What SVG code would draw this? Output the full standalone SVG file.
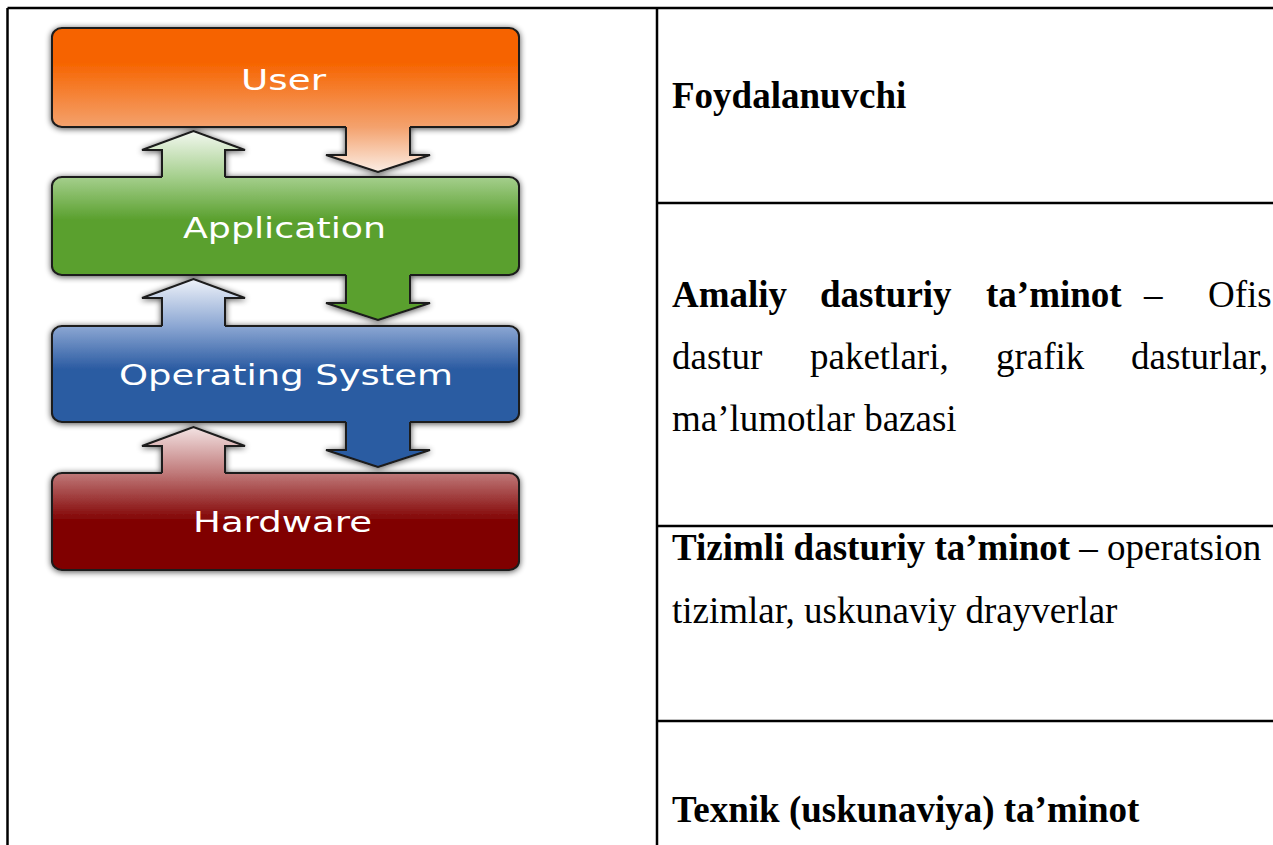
<svg xmlns="http://www.w3.org/2000/svg" width="1273" height="845" viewBox="0 0 1273 845">
<style>
.box{stroke:#1a1a1a;stroke-width:2}
.arf{stroke:none}
.ars{fill:none;stroke:#1a1a1a;stroke-width:2;stroke-linejoin:miter}
.lbl{font-family:"DejaVu Sans",Verdana,sans-serif;font-size:29px;fill:#ffffff}
.grid{stroke:#000;stroke-width:2.5;fill:none}
.t{font-family:"Liberation Serif","Times New Roman",serif;font-size:37px;fill:#000}
.b{font-weight:bold}
</style>
<defs>
<linearGradient id="gUser" gradientUnits="userSpaceOnUse" x1="0" y1="28" x2="0" y2="172">
<stop offset="0" stop-color="#F66400"/><stop offset="0.24" stop-color="#F66400"/><stop offset="0.69" stop-color="#F4A26E"/><stop offset="1" stop-color="#FBEDE4"/>
</linearGradient>
<linearGradient id="gApp" gradientUnits="userSpaceOnUse" x1="0" y1="131" x2="0" y2="320">
<stop offset="0" stop-color="#F3F8F0"/><stop offset="0.243" stop-color="#A5CF8D"/><stop offset="0.47" stop-color="#5AA02E"/><stop offset="1" stop-color="#5AA02E"/>
</linearGradient>
<linearGradient id="gOS" gradientUnits="userSpaceOnUse" x1="0" y1="279" x2="0" y2="467">
<stop offset="0" stop-color="#EEF2F9"/><stop offset="0.25" stop-color="#8CA7D3"/><stop offset="0.48" stop-color="#2B5BA2"/><stop offset="1" stop-color="#2B5BA2"/>
</linearGradient>
<linearGradient id="gHW" gradientUnits="userSpaceOnUse" x1="0" y1="427" x2="0" y2="570">
<stop offset="0" stop-color="#F3E3E3"/><stop offset="0.32" stop-color="#C07A7A"/><stop offset="0.66" stop-color="#800000"/><stop offset="1" stop-color="#800000"/>
</linearGradient>
<filter id="sh" x="-10%" y="-10%" width="120%" height="120%">
<feGaussianBlur in="SourceAlpha" stdDeviation="3"/>
<feOffset dx="0" dy="1"/>
<feComponentTransfer><feFuncA type="linear" slope="0.7"/></feComponentTransfer>
<feMerge><feMergeNode/><feMergeNode in="SourceGraphic"/></feMerge>
</filter>
</defs>
<rect width="1273" height="845" fill="#fff"/>

<g id="table">
<line class="grid" x1="7.5" y1="8" x2="1273" y2="8"/>
<line class="grid" x1="7.5" y1="8" x2="7.5" y2="845"/>
<line class="grid" x1="657" y1="8" x2="657" y2="845"/>
<line class="grid" x1="657" y1="203" x2="1273" y2="203"/>
<line class="grid" x1="657" y1="526" x2="1273" y2="526"/>
<line class="grid" x1="657" y1="721" x2="1273" y2="721"/>
</g>

<g id="stack" filter="url(#sh)">
<g id="node-user">
<rect class="box" x="52" y="28" width="467" height="99" rx="10" ry="9" fill="url(#gUser)"/>
</g>
<g id="node-application">
<rect class="box" x="52" y="177" width="467" height="98" rx="10" ry="9" fill="url(#gApp)"/>
</g>
<g id="node-os">
<rect class="box" x="52" y="326" width="467" height="96" rx="10" ry="9" fill="url(#gOS)"/>
</g>
<g id="node-hardware">
<rect class="box" x="52" y="473" width="467" height="97" rx="10" ry="9" fill="url(#gHW)"/>
</g>
<g id="connectors">
<path class="arf" fill="url(#gUser)" d="M346,125 V155 H326 L378,172 L430,155 H410 V125 Z"/>
<path class="ars" d="M346,127 V155 H326 L378,172 L430,155 H410 V127"/>
<path class="arf" fill="url(#gApp)" d="M162,179 V150 H142 L193.5,131 L245,150 H225 V179 Z"/>
<path class="ars" d="M162,177 V150 H142 L193.5,131 L245,150 H225 V177"/>
<path class="arf" fill="url(#gApp)" d="M346,273 V303 H326 L378,320 L430,303 H410 V273 Z"/>
<path class="ars" d="M346,275 V303 H326 L378,320 L430,303 H410 V275"/>
<path class="arf" fill="url(#gOS)" d="M162,328 V298 H142 L193.5,279 L245,298 H225 V328 Z"/>
<path class="ars" d="M162,326 V298 H142 L193.5,279 L245,298 H225 V326"/>
<path class="arf" fill="url(#gOS)" d="M346,420 V450 H326 L378,467 L430,450 H410 V420 Z"/>
<path class="ars" d="M346,422 V450 H326 L378,467 L430,450 H410 V422"/>
<path class="arf" fill="url(#gHW)" d="M162,475 V446 H142 L193.5,427 L245,446 H225 V475 Z"/>
<path class="ars" d="M162,473 V446 H142 L193.5,427 L245,446 H225 V473"/>
</g>
</g>
<g id="labels">
<text class="lbl" x="241" y="90" textLength="85" lengthAdjust="spacingAndGlyphs">User</text>
<text class="lbl" x="183" y="238" textLength="203" lengthAdjust="spacingAndGlyphs">Application</text>
<text class="lbl" x="119" y="385" textLength="334" lengthAdjust="spacingAndGlyphs">Operating System</text>
<text class="lbl" x="193" y="532" textLength="179" lengthAdjust="spacingAndGlyphs">Hardware</text>
</g>

<g id="row-user">
<text class="t b" x="672" y="108">Foydalanuvchi</text>
</g>
<g id="row-application">
<text class="t b" x="672" y="307">Amaliy</text>
<text class="t b" x="820" y="307">dasturiy</text>
<text class="t b" x="986" y="307">ta’minot</text>
<text class="t" x="1144" y="307">–</text>
<text class="t" x="1208" y="307">Ofis</text>
<text class="t" x="672" y="369">dastur</text>
<text class="t" x="810" y="369">paketlari,</text>
<text class="t" x="996" y="369">grafik</text>
<text class="t" x="1131" y="369">dasturlar,</text>
<text class="t" x="672" y="431">ma’lumotlar bazasi</text>
</g>
<g id="row-os">
<text class="t" x="672" y="560"><tspan class="b">Tizimli dasturiy ta’minot</tspan> – operatsion</text>
<text class="t" x="672" y="623">tizimlar, uskunaviy drayverlar</text>
</g>
<g id="row-hardware">
<text class="t b" x="672" y="822">Texnik (uskunaviya) ta’minot</text>
</g>
</svg>
